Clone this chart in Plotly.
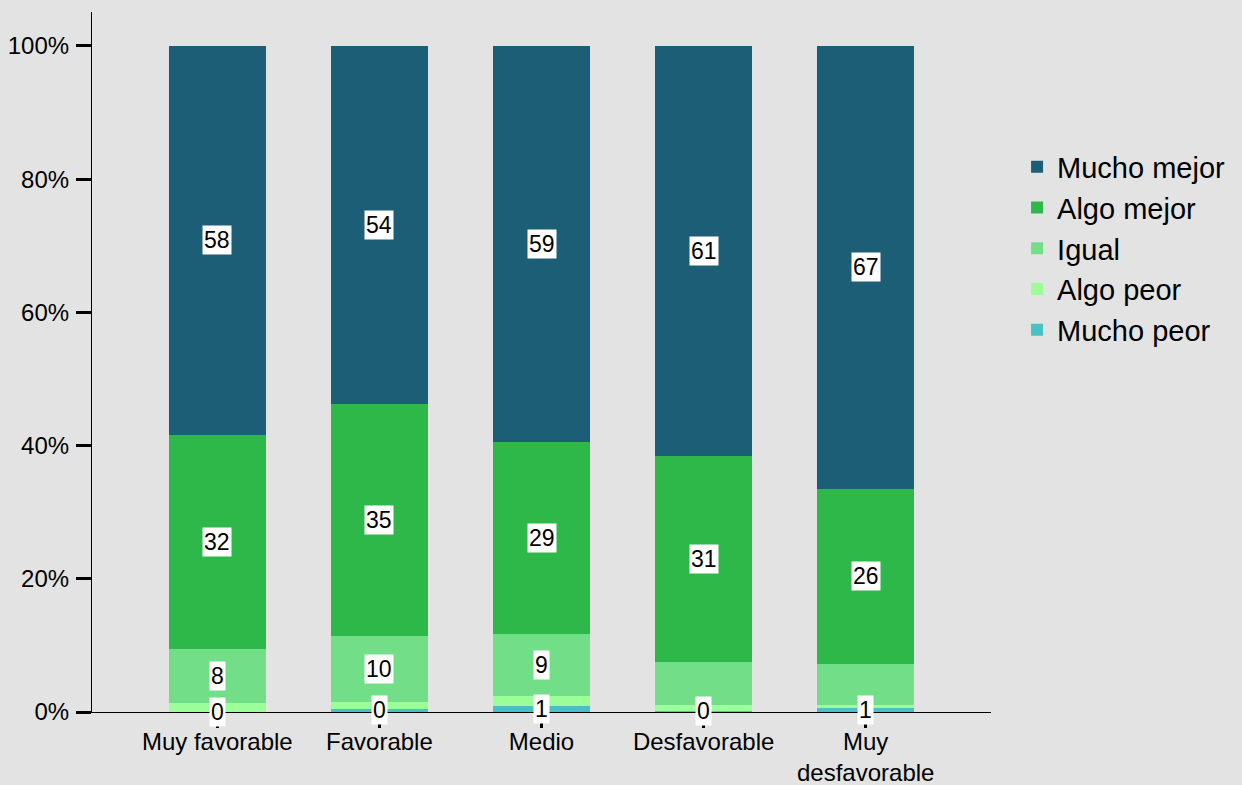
import plotly.graph_objects as go

categories = ["Muy favorable", "Favorable", "Medio", "Desfavorable", "Muy<br>desfavorable"]

series_names = ["Mucho peor", "Algo peor", "Igual", "Algo mejor", "Mucho mejor"]
mucho_peor = [0.0, 0.5, 0.9, 0.2, 0.65]
algo_peor = [1.4, 1.0, 1.5, 0.85, 0.4]
igual = [8.1, 9.9, 9.3, 6.45, 6.15]
algo_mejor = [32.1, 34.8, 28.8, 30.9, 26.3]
mucho_mejor = [58.4, 53.8, 59.5, 61.6, 66.5]

mp_labels = ["0", "0", "1", "0", "1"]
ap_labels = ["", "", "", "", ""]
ig_labels = ["8", "10", "9", "", ""]
am_labels = ["32", "35", "29", "31", "26"]
mm_labels = ["58", "54", "59", "61", "67"]

y_tick_values = [0, 20, 40, 60, 80, 100]
y_tick_labels = ["0%", "20%", "40%", "60%", "80%", "100%"]

colors = ["#47c1c6", "#9cfe98", "#72de88", "#2eb84a", "#1c5e75"]

series = [mucho_peor, algo_peor, igual, algo_mejor, mucho_mejor]
labels = [mp_labels, ap_labels, ig_labels, am_labels, mm_labels]

FONT = "Liberation Sans, Arial, sans-serif"

fig = go.Figure()
for name, vals, col in zip(series_names, series, colors):
    fig.add_trace(go.Bar(
        x=categories, y=vals, name=name,
        marker=dict(color=col, line=dict(width=0)),
        width=0.6, hoverinfo="x+y+name",
    ))

# data labels at segment centres
annotations = []
base = [0.0] * len(categories)
for vals, labs in zip(series, labels):
    for i, (v, t) in enumerate(zip(vals, labs)):
        if t:
            annotations.append(dict(
                x=categories[i], y=base[i] + v / 2, xref="x", yref="y",
                text=t, showarrow=False, bgcolor="white", borderpad=1,
                font=dict(family=FONT, size=23, color="black"),
            ))
    base = [b + v for b, v in zip(base, vals)]

fig.update_layout(
    barmode="stack",
    width=1242, height=785,
    margin=dict(l=92, r=247, t=12, b=73),
    paper_bgcolor="#e3e3e3",
    plot_bgcolor="#e3e3e3",
    font=dict(family=FONT, size=24, color="black"),
    showlegend=True,
    legend=dict(
        x=1.029, y=0.815, xanchor="left", yanchor="top",
        traceorder="reversed", font=dict(family=FONT, size=29),
        bgcolor="rgba(0,0,0,0)", tracegroupgap=0,
    ),
    annotations=annotations,
    bargap=0.4,
)
fig.update_xaxes(
    showline=True, linecolor="black", linewidth=1.2,
    ticks="outside", ticklen=15, tickcolor="black", tickwidth=3,
    showgrid=False, range=[-0.773, 4.773], zeroline=False,
    tickfont=dict(family=FONT, size=24), ticklabelstandoff=-7,
    automargin=False,
)
fig.update_yaxes(
    showline=True, linecolor="black", linewidth=1.2,
    ticks="outside", ticklen=15, tickcolor="black", tickwidth=3,
    showgrid=False, range=[0, 105.1], zeroline=False,
    tickmode="array", tickvals=y_tick_values, ticktext=y_tick_labels,
    tickfont=dict(family=FONT, size=24), ticklabelstandoff=2,
    automargin=False,
)

fig.write_html(
    "out.html",
    config={"displayModeBar": False},
    post_script="document.body.style.margin='0';",
)
